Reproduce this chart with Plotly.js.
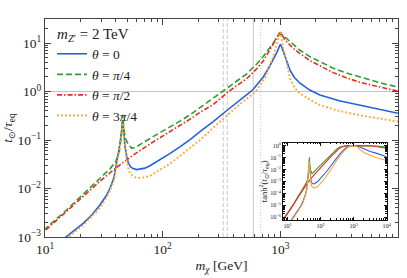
<!DOCTYPE html>
<html><head><meta charset="utf-8">
<script src="https://cdn.plot.ly/plotly-3.0.1.min.js"></script>
<style>html,body{margin:0;padding:0;background:#fff}#chart{width:407px;height:278px}</style>
</head><body><div id="chart"></div>
<script>
// ---- data ----
const seriesNames = ['<i>θ</i> = 0', '<i>θ</i> = <i>π</i>/4', '<i>θ</i> = <i>π</i>/2', '<i>θ</i> = 3<i>π</i>/4'];
const seriesColors = ['#2460e0', '#2ca02c', '#ec2a1e', '#ffa533'];

const massTheta0 = [12.6, 15.0, 17.8, 21.1, 25.1, 29.3, 33.1, 35.6, 38.5, 40.6, 43.2, 44.9, 45.8, 46.8, 47.9, 49.6, 51.1, 53.7, 56.2, 60.3, 64.1, 70.8, 78.0, 89.1, 100, 115, 140, 171, 214, 269, 373, 447, 516, 582, 716, 794, 871, 933, 977, 1000, 1023, 1059, 1094, 1148, 1208, 1318, 1469, 1778, 2168, 3162, 4742, 7079, 10000];
const tTheta0 = [0.000708, 0.001, 0.00138, 0.00191, 0.00288, 0.00457, 0.00708, 0.0100, 0.0166, 0.0331, 0.0794, 0.162, 0.257, 0.141, 0.0724, 0.0447, 0.0331, 0.0275, 0.0257, 0.0245, 0.0251, 0.0263, 0.0295, 0.0355, 0.0417, 0.0525, 0.0724, 0.102, 0.158, 0.240, 0.457, 0.631, 0.851, 1.072, 1.995, 3.02, 4.47, 6.31, 8.32, 9.33, 8.51, 6.61, 5.25, 3.72, 2.75, 1.95, 1.48, 1.07, 0.851, 0.646, 0.525, 0.427, 0.355];

const massThetaPi4 = [7.41, 10, 15.3, 21.1, 29.3, 35.5, 39.8, 42.7, 44.5, 45.8, 47.0, 48.4, 51.1, 54.6, 58.9, 63.1, 70.8, 79.4, 100, 140, 171, 214, 269, 324, 373, 516, 631, 716, 871, 944, 1000, 1047, 1096, 1208, 1318, 1469, 1778, 2168, 2818, 3656, 4742, 7079, 10000];
const tThetaPi4 = [0.000794, 0.00145, 0.00363, 0.00759, 0.0155, 0.0251, 0.0355, 0.0562, 0.112, 0.331, 0.158, 0.105, 0.0813, 0.0676, 0.0708, 0.0794, 0.0933, 0.110, 0.151, 0.245, 0.331, 0.490, 0.724, 1.0, 1.26, 2.29, 3.72, 5.25, 10.0, 13.5, 15.1, 14.8, 13.2, 10.7, 8.71, 7.08, 5.25, 4.07, 3.02, 2.40, 2.00, 1.51, 1.23];

const massThetaPi2 = [7.41, 10, 15.3, 21.1, 29.3, 38.0, 56.2, 79.4, 100, 140, 171, 214, 269, 363, 447, 516, 631, 716, 871, 944, 1000, 1047, 1096, 1208, 1318, 1469, 1778, 2168, 2818, 3656, 4742, 7079, 10000];
const tThetaPi2 = [0.000741, 0.00135, 0.00339, 0.00692, 0.0141, 0.0240, 0.0490, 0.0851, 0.120, 0.195, 0.269, 0.389, 0.537, 1.0, 1.41, 1.82, 2.95, 4.27, 9.55, 14.1, 17.4, 14.1, 11.5, 9.12, 7.41, 6.03, 4.37, 3.39, 2.45, 1.91, 1.55, 1.23, 1.02];

const massTheta3Pi4 = [12.6, 15.7, 18.2, 21.1, 25.1, 29.3, 33.1, 35.6, 38.5, 40.6, 43.2, 44.9, 45.8, 46.8, 47.9, 49.6, 51.1, 52.7, 56.2, 60.3, 64.1, 70.8, 78.0, 89.1, 100, 115, 140, 171, 208, 307, 454, 617, 741, 817, 871, 931, 966, 1000, 1023, 1047, 1094, 1148, 1208, 1318, 1469, 1778, 2168, 3162, 4742, 7079, 10000];
const tTheta3Pi4 = [0.000631, 0.001, 0.00132, 0.00174, 0.00263, 0.00398, 0.00631, 0.00891, 0.0148, 0.0295, 0.0708, 0.145, 0.224, 0.120, 0.0631, 0.0355, 0.0263, 0.0204, 0.0178, 0.0166, 0.0166, 0.0170, 0.0182, 0.0219, 0.0257, 0.0324, 0.0468, 0.0676, 0.100, 0.240, 0.550, 1.0, 1.91, 3.55, 5.25, 9.55, 13.2, 17.0, 13.2, 8.91, 5.62, 3.02, 1.86, 1.20, 0.912, 0.676, 0.525, 0.398, 0.324, 0.275, 0.240];

const refMassesDashed = [327, 354];
const refMassSolid = [589];
const refMassDotted = [681];

const mainXTicks = [10, 100, 1000, 10000];
const mainXTickText = ['10<sup>1</sup>', '10<sup>2</sup>', '10<sup>3</sup>', '10<sup>4</sup>'];
const mainYTicks = [0.001, 0.01, 0.1, 1, 10];
const mainYTickText = ['10<sup>−3</sup>', '10<sup>−2</sup>', '10<sup>−1</sup>', '10<sup>0</sup>', '10<sup>1</sup>'];
const insetYTicks = [1e-6, 1e-5, 1e-4, 1e-3, 1e-2, 1e-1, 1];
const insetYTickText = ['10<sup>−6</sup>', '10<sup>−5</sup>', '10<sup>−4</sup>', '10<sup>−3</sup>', '10<sup>−2</sup>', '10<sup>−1</sup>', '10<sup>0</sup>'];

// ---- build ----
const masses = [massTheta0, massThetaPi4, massThetaPi2, massTheta3Pi4];
const tvals = [tTheta0, tThetaPi4, tThetaPi2, tTheta3Pi4];
const dashes = ['solid', '6px,3px', '5px,2px,1.5px,2px', '1.8px,2.2px'];
const widths = [1.6, 1.6, 1.6, 1.9];

function minorVals(lo, hi) {
  const out = [];
  for (let e = lo; e < hi; e++) for (let k = 2; k <= 9; k++) out.push(k * Math.pow(10, e));
  return out;
}

const traces = [];
for (let i = 0; i < 4; i++) {
  traces.push({x: masses[i], y: tvals[i], xaxis: 'x', yaxis: 'y', mode: 'lines', name: seriesNames[i],
    line: {color: seriesColors[i], width: widths[i], dash: dashes[i]}});
}
for (let i = 0; i < 4; i++) {
  traces.push({x: masses[i], y: tvals[i].map(v => Math.pow(Math.tanh(v), 2)), xaxis: 'x2', yaxis: 'y2',
    mode: 'lines', showlegend: false, line: {color: seriesColors[i], width: 1.1}});
}

const font = 'Liberation Serif, Times New Roman, serif';
const axCommon = {type: 'log', showline: true, linecolor: '#444', linewidth: 1.2, mirror: 'allticks',
  ticks: 'inside', ticklen: 6, tickcolor: '#444', showgrid: false, zeroline: false, tickmode: 'array'};

const shapes = [
  {type: 'line', xref: 'x domain', x0: 0, x1: 1, yref: 'y', y0: 1, y1: 1, line: {color: '#c4c4c4', width: 1}, layer: 'below'},
  {type: 'line', xref: 'x2 domain', x0: 0, x1: 1, yref: 'y2', y0: 1, y1: 1, line: {color: '#c4c4c4', width: 1}, layer: 'below'}
];
refMassesDashed.forEach(m => shapes.push({type: 'line', xref: 'x', x0: m, x1: m, yref: 'y domain', y0: 0, y1: 1, line: {color: '#c8c8c8', width: 1, dash: '4px,2px'}, layer: 'below'}));
refMassSolid.forEach(m => shapes.push({type: 'line', xref: 'x', x0: m, x1: m, yref: 'y domain', y0: 0, y1: 1, line: {color: '#c8c8c8', width: 1}, layer: 'below'}));
refMassDotted.forEach(m => shapes.push({type: 'line', xref: 'x', x0: m, x1: m, yref: 'y domain', y0: 0, y1: 1, line: {color: '#c8c8c8', width: 1, dash: '1px,2px'}, layer: 'below'}));

const layout = {
  width: 407, height: 278,
  margin: {l: 45, r: 9, t: 19, b: 41},
  paper_bgcolor: '#fff', plot_bgcolor: '#fff',
  font: {family: font, size: 13, color: '#222'},
  showlegend: true,
  legend: {x: 0.02, y: 1.0, xanchor: 'left', yanchor: 'top', bgcolor: 'rgba(0,0,0,0)',
    font: {family: font, size: 13.5}, itemwidth: 30, tracegroupgap: 0,
    title: {text: '&#8201;<i>m</i><sub><i>Z</i>′</sub> = 2 TeV', font: {family: font, size: 15}}},
  xaxis: Object.assign({}, axCommon, {range: [1, 4], tickvals: mainXTicks, ticktext: mainXTickText,
    tickfont: {size: 13.5}, anchor: 'y',
    minor: {tickmode: 'array', tickvals: minorVals(1, 4), ticks: 'inside', ticklen: 3, tickcolor: '#444'},
    title: {text: '<i>m</i><sub><i>χ</i></sub> [GeV]', font: {size: 13.5}, standoff: 4}}),
  yaxis: Object.assign({}, axCommon, {range: [-3, 1.495], tickvals: mainYTicks, ticktext: mainYTickText,
    tickfont: {size: 13.5}, anchor: 'x',
    minor: {tickmode: 'array', tickvals: minorVals(-3, 2), ticks: 'inside', ticklen: 3, tickcolor: '#444'},
    title: {text: '<i>t</i><sub>⊙</sub>/<i>τ</i><sub>eq</sub>', font: {size: 13.5}, standoff: 2}}),
  xaxis2: Object.assign({}, axCommon, {domain: [0.675, 0.968], anchor: 'y2', range: [0.87, 4],
    tickvals: mainXTicks, ticktext: mainXTickText, tickfont: {size: 6.2}, ticklen: 3, linecolor: '#111', linewidth: 1, tickcolor: '#111',
    minor: {tickmode: 'array', tickvals: minorVals(0, 4), ticks: 'inside', ticklen: 1.5, tickcolor: '#111'}}),
  yaxis2: Object.assign({}, axCommon, {domain: [0.078, 0.433], anchor: 'x2', range: [-6.25, 0.25],
    tickvals: insetYTicks, ticktext: insetYTickText, tickfont: {size: 6.2}, ticklen: 3, linecolor: '#111', linewidth: 1, tickcolor: '#111',
    minor: {tickmode: 'array', tickvals: minorVals(-7, 1), ticks: 'inside', ticklen: 1.5, tickcolor: '#111'},
    title: {text: 'tanh<sup>2</sup>(<i>t</i><sub>⊙</sub>/<i>τ</i><sub>eq</sub>)', font: {size: 8.5}, standoff: 1}}),
  shapes: shapes
};

Plotly.newPlot('chart', traces, layout, {staticPlot: true, displayModeBar: false});
</script>
</body></html>
